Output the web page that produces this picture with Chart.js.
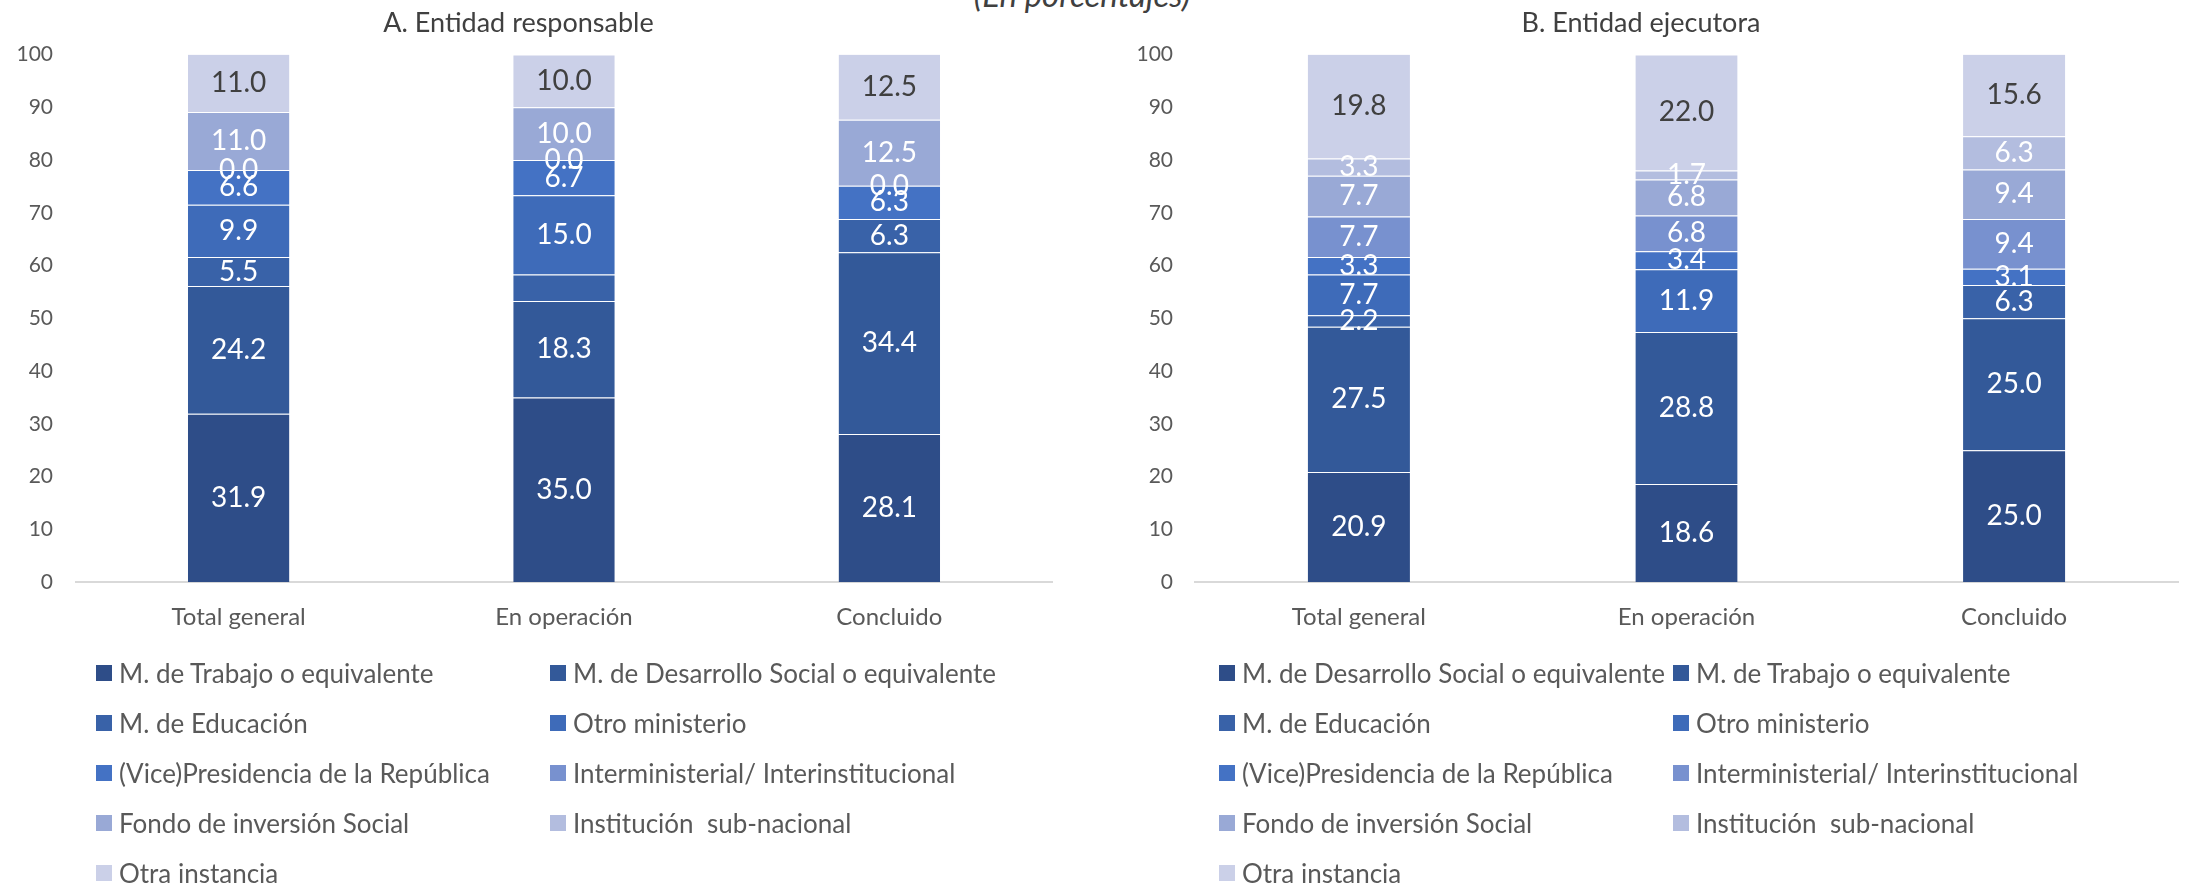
<!DOCTYPE html>
<html>
<head>
<meta charset="utf-8">
<script src="https://cdn.jsdelivr.net/npm/chart.js@4.4.1/dist/chart.umd.min.js"></script>
<style>
    body { margin: 0; width: 2185px; height: 885px; overflow: hidden; position: relative; background: #fff; font-family: Lato, sans-serif; }
    .panel { position: absolute; top: 0; height: 660px; }
    #panelA { left: -15px; width: 1105px; }
    #panelB { left: 1090px; width: 1095px; }
    .subtitle { position: absolute; top: -22px; left: 1082px; transform: translateX(-50%); font-size: 33px; line-height: 33px; font-style: italic; color: #404040; white-space: nowrap; }
    .legend { position: absolute; top: 658px; height: 230px; }
    #legendA { left: 0; width: 1090px; }
    #legendB { left: 0; width: 2185px; }
    .legend-item { position: absolute; display: flex; align-items: center; height: 30px; font-size: 26px; color: #595959; white-space: pre; }
    .legend-item .box { width: 16px; height: 16px; margin-right: 7px; flex: none; }
</style>
</head>
<body>
<div class="subtitle">(En porcentajes)</div>
<div class="panel" id="panelA"><canvas id="chartA"></canvas></div>
<div class="panel" id="panelB"><canvas id="chartB"></canvas></div>
<div class="legend" id="legendA"></div>
<div class="legend" id="legendB"></div>
<script>
const categories = ['Total general', 'En operación', 'Concluido'];

// A. Entidad responsable
const seriesA = ['M. de Trabajo o equivalente', 'M. de Desarrollo Social o equivalente', 'M. de Educación', 'Otro ministerio',
    '(Vice)Presidencia de la República', 'Interministerial/ Interinstitucional', 'Fondo de inversión Social',
    'Institución  sub-nacional', 'Otra instancia'];
const trabajoA = [31.9, 35.0, 28.1];
const desarrolloA = [24.2, 18.3, 34.4];
const educacionA = [5.5, 5.0, 6.3];
const otroMinA = [9.9, 15.0, null];
const presidenciaA = [6.6, 6.7, 6.3];
const interminA = [0.0, 0.0, 0.0];
const fondoA = [11.0, 10.0, 12.5];
const subnacA = [null, null, null];
const otraA = [11.0, 10.0, 12.5];
// el segmento de M. de Educación en "En operación" no lleva etiqueta en el original
const hiddenA = [[2, 1]];

// B. Entidad ejecutora
const seriesB = ['M. de Desarrollo Social o equivalente', 'M. de Trabajo o equivalente', 'M. de Educación', 'Otro ministerio',
    '(Vice)Presidencia de la República', 'Interministerial/ Interinstitucional', 'Fondo de inversión Social',
    'Institución  sub-nacional', 'Otra instancia'];
const desarrolloB = [20.9, 18.6, 25.0];
const trabajoB = [27.5, 28.8, 25.0];
const educacionB = [2.2, null, 6.3];
const otroMinB = [7.7, 11.9, null];
const presidenciaB = [3.3, 3.4, 3.1];
const interminB = [7.7, 6.8, 9.4];
const fondoB = [7.7, 6.8, 9.4];
const subnacB = [3.3, 1.7, 6.3];
const otraB = [19.8, 22.0, 15.6];
const hiddenB = [];

const palette = ['#2e4d88', '#335999', '#3962a8', '#3e6bb9', '#4472c4', '#7891cf', '#99a9d6', '#b3bddf', '#cbd0e8'];
const textGrey = '#595959';

const valueLabels = {
    id: 'valueLabels',
    afterDatasetsDraw(chart, args, opts) {
        const ctx = chart.ctx;
        const last = chart.data.datasets.length - 1;
        ctx.save();
        ctx.font = '28px Lato';
        ctx.textAlign = 'center';
        ctx.textBaseline = 'middle';
        chart.data.datasets.forEach((ds, i) => {
            chart.getDatasetMeta(i).data.forEach((bar, j) => {
                const v = ds.data[j];
                if (v === null) return;
                if (opts.hidden.some(h => h[0] === i && h[1] === j)) return;
                ctx.fillStyle = i === last ? '#404040' : '#ffffff';
                ctx.fillText(v.toFixed(1), bar.x, (bar.y + bar.base) / 2);
            });
        });
        ctx.restore();
    }
};

function buildLegend(chart, legendId, columns) {
    const holder = document.getElementById(legendId);
    const items = Chart.defaults.plugins.legend.labels.generateLabels(chart);
    items.forEach((item, i) => {
        const row = document.createElement('div');
        row.className = 'legend-item';
        row.style.left = columns[i % 2] + 'px';
        row.style.top = Math.floor(i / 2) * 50 + 'px';
        const box = document.createElement('span');
        box.className = 'box';
        box.style.background = item.fillStyle;
        const label = document.createElement('span');
        label.textContent = item.text;
        row.appendChild(box);
        row.appendChild(label);
        holder.appendChild(row);
    });
}

function makeChart(canvasId, title, names, values, hidden, pad, tickPad) {
    return new Chart(document.getElementById(canvasId), {
        type: 'bar',
        data: {
            labels: categories,
            datasets: names.map((name, i) => ({
                label: name,
                data: values[i],
                backgroundColor: palette[i],
                borderColor: 'rgba(255,255,255,0.2)',
                borderWidth: { top: 1, right: 0, bottom: 0, left: 0 },
                borderSkipped: false,
                categoryPercentage: 1,
                barPercentage: 0.312
            }))
        },
        plugins: [valueLabels],
        options: {
            responsive: true,
            maintainAspectRatio: false,
            animation: false,
            layout: { padding: pad },
            plugins: {
                legend: { display: false },
                tooltip: { enabled: false },
                title: {
                    display: true,
                    text: title,
                    color: '#404040',
                    font: { family: 'Lato', size: 27, weight: 'normal' },
                    padding: { top: 7, bottom: 15 }
                },
                valueLabels: { hidden: hidden }
            },
            scales: {
                x: {
                    stacked: true,
                    grid: { display: false, drawTicks: false },
                    border: { color: '#d9d9d9', width: 2 },
                    ticks: { color: textGrey, font: { family: 'Lato', size: 24 }, padding: 21 }
                },
                y: {
                    stacked: true,
                    min: 0,
                    max: 100,
                    grid: { display: false, drawTicks: false },
                    border: { display: false },
                    ticks: { stepSize: 10, color: textGrey, font: { family: 'Lato', size: 21 }, padding: tickPad },
                    afterFit: axis => { axis.width = 91; }
                }
            }
        }
    });
}

const valuesA = [trabajoA, desarrolloA, educacionA, otroMinA, presidenciaA, interminA, fondoA, subnacA, otraA];
const valuesB = [desarrolloB, trabajoB, educacionB, otroMinB, presidenciaB, interminB, fondoB, subnacB, otraB];

const chartA = makeChart('chartA', 'A. Entidad responsable', seriesA, valuesA, hiddenA,
    { left: 0, right: 38, top: 0, bottom: 7 }, 23);
const chartB = makeChart('chartB', 'B. Entidad ejecutora', seriesB, valuesB, hiddenB,
    { left: 14, right: 7, top: 0, bottom: 7 }, 22);

buildLegend(chartA, 'legendA', [96, 550]);
buildLegend(chartB, 'legendB', [1219, 1673]);
</script>
</body>
</html>
